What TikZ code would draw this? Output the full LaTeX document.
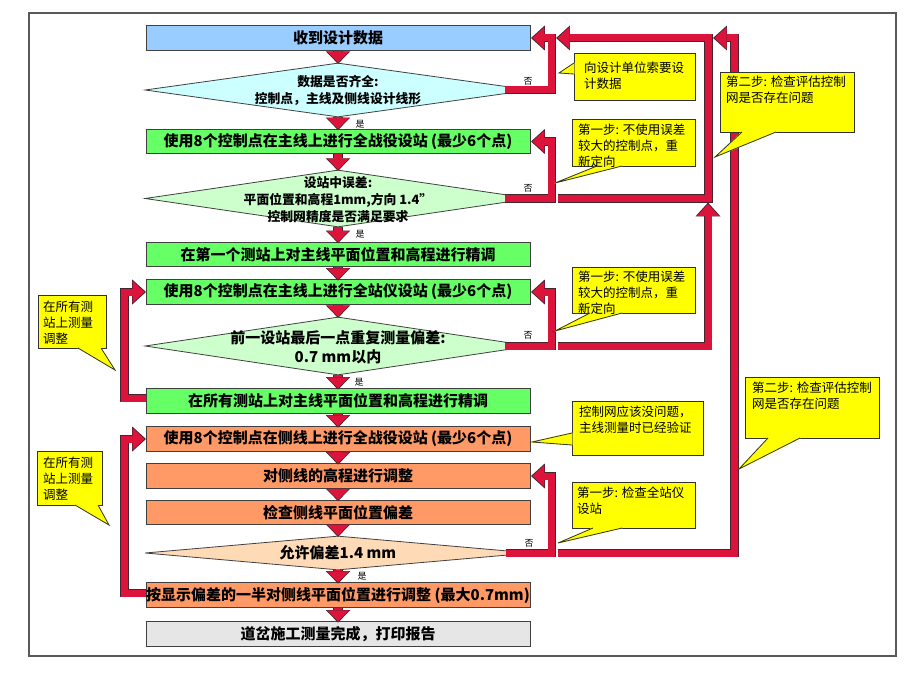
\documentclass[tikz,border=0pt]{standalone}
\usepackage{fontspec}
\setmainfont{Noto Sans CJK SC}
\usetikzlibrary{arrows.meta,shapes.geometric,calc}
\definecolor{arrred}{RGB}{220,20,60}
\definecolor{arrdark}{RGB}{70,35,45}
\definecolor{boxblue}{RGB}{153,204,255}
\definecolor{diacyan}{RGB}{204,255,255}
\definecolor{boxgreen}{RGB}{102,255,102}
\definecolor{dialgreen}{RGB}{204,255,204}
\definecolor{boxorange}{RGB}{255,153,102}
\definecolor{diapeach}{RGB}{255,218,182}
\definecolor{boxgray}{RGB}{230,230,230}
\definecolor{callyellow}{RGB}{255,255,0}
\definecolor{edgegray}{RGB}{64,64,64}
\newcommand\cptr[3]{\path[fill=callyellow, draw=callyellow, line width=0.9pt, line join=round] #1 -- #2 -- #3 -- cycle; \draw[cedge] #1 -- #2 -- #3;}
\begin{document}
\begin{tikzpicture}[x=1pt,y=-1pt,
  stepbox/.style={draw=edgegray, line width=0.8pt, minimum width=384pt, minimum height=24.5pt, inner sep=0pt, font=\fontsize{15}{18}\selectfont\bfseries},
  dia/.style={diamond, draw=edgegray, line width=0.8pt, minimum width=386pt, inner sep=0pt},
  dtext/.style={align=center, inner sep=0pt, font=\fontsize{12.8}{17}\selectfont\bfseries},
  dtextbig/.style={align=center, inner sep=0pt, font=\fontsize{15}{19}\selectfont\bfseries},
  yn/.style={inner sep=0pt, font=\fontsize{9}{10}\selectfont},
  frame/.style={draw=black!65, line width=1.2pt},
  blk/.style={draw=arrred, line width=7pt, line join=miter, -{Triangle[width=22pt,length=12pt,line width=0pt]},
    preaction={draw=arrdark, line width=8.4pt, line join=miter, shorten >=-1.4pt, shorten <=-0.7pt, -{Triangle[width=25pt,length=13.8pt,line width=0pt]}}},
  dnarr/.style={draw=arrred, line width=8pt, -{Triangle[width=22pt,length=11pt,line width=0pt]},
    preaction={draw=arrdark, line width=9.2pt, shorten >=-1.2pt, -{Triangle[width=24.5pt,length=12.4pt,line width=0pt]}}},
  cbox/.style={draw=black!80, fill=callyellow, line width=0.8pt, inner sep=0pt},
  cedge/.style={draw=black!80, line width=0.8pt, line join=miter},
  ctext/.style={anchor=north west, inner sep=0pt, align=left, font=\fontsize{12.5}{16}\selectfont}
]
\fill[white] (0,0) rectangle (920,690);
\useasboundingbox (0,0) rectangle (920,690);
\draw[frame] (29,13) rectangle (896,656);

% main column
\node[stepbox, fill=boxblue] (b1) at (338,38) {收到设计数据};
\node[dia, fill=diacyan, minimum height=54pt] (d1) at (338,90) {};
\node[dtext] (d1t) at (d1) {数据是否齐全:\\控制点，主线及侧线设计线形};
\node[stepbox, fill=boxgreen] (b2) at (338,141.5) {使用8个控制点在主线上进行全战役设站 (最少6个点)};
\node[dia, fill=dialgreen, minimum height=57pt] (d2) at (338,198.5) {};
\node[dtext] (d2t) at ($(d2)+(0,1.5)$) {设站中误差:\\平面位置和高程1mm,方向 1.4"\\控制网精度是否满足要求};
\node[stepbox, fill=boxgreen] (b3) at (338,254.5) {在第一个测站上对主线平面位置和高程进行精调};
\node[stepbox, fill=boxgreen] (b4) at (338,292) {使用8个控制点在主线上进行全站仪设站 (最少6个点)};
\node[dia, fill=dialgreen, minimum height=58pt] (d3) at (338,346) {};
\node[dtextbig] (d3t) at ($(d3)+(0,1)$) {前一设站最后一点重复测量偏差:\\0.7 mm以内};
\node[stepbox, fill=boxgreen] (b5) at (338,401) {在所有测站上对主线平面位置和高程进行精调};
\node[stepbox, fill=boxorange] (b6) at (338,439) {使用8个控制点在侧线上进行全战役设站 (最少6个点)};
\node[stepbox, fill=boxorange] (b7) at (338,476) {对侧线的高程进行调整};
\node[stepbox, fill=boxorange] (b8) at (338,512.5) {检查侧线平面位置偏差};
\node[dia, fill=diapeach, minimum height=34pt] (d4) at (338,553) {};
\node[dtextbig] (d4t) at (d4) {允许偏差1.4 mm};
\node[stepbox, fill=boxorange] (b9) at (338,595) {按显示偏差的一半对侧线平面位置进行调整 (最大0.7mm)};
\node[stepbox, fill=boxgray] (b10) at (338,634) {道岔施工测量完成，打印报告};

% down arrows
\foreach \a/\b in {b1/d1,d1/b2,b2/d2,d2/b3,b3/b4,b4/d3,d3/b5,b5/b6,b6/b7,b7/b8,b8/d4,d4/b9,b9/b10}
  \draw[dnarr] (\a.south) -- (\b.north);

% yes / no labels
\node[yn] (y1) at (360,124) {是};
\node[yn] (y2) at (360,234) {是};
\node[yn] (y3) at (359,382) {是};
\node[yn] (y4) at (362,576) {是};
\node[yn] (n1) at (528,81) {否};
\node[yn] (n2) at (528,188) {否};
\node[yn] (n3) at (528,335) {否};
\node[yn] (n4) at (529,543) {否};

% return connectors
\coordinate (retA) at (557.5,38);
\coordinate (retC) at (708,204);
\coordinate (retC2) at (714.5,38);
\draw[blk] ($(d1.east)+(-26,0)$) -- ++(46.5,0) |- ($(b1.east)+(2,0)$);
\draw[blk] ($(d2.east)+(-26,0)$) -- ++(46.5,0) |- ($(b2.east)+(2,0)$);
\draw[blk] ($(d2.east)+(27,0)$) -- ++(150,0) |- (retA);
\draw[blk] ($(d3.east)+(-26,0)$) -- ++(46.5,0) |- ($(b4.east)+(2,0)$);
\draw[blk] ($(d3.east)+(27,0)$) -| (retC);
\draw[blk] ($(d4.east)+(-25,0)$) -- ++(45.5,0) |- ($(b7.east)+(2,0)$);
\draw[blk] ($(d4.east)+(27,0)$) -- ++(176,0) |- (retC2);
\draw[blk] ($(b5.west)+(0,-3)$) -- ++(-21,0) |- ($(b4.west)+(-1,0)$);
\draw[blk] ($(b9.west)+(0,-2)$) -- ++(-21,0) |- ($(b6.west)+(-1,0)$);

% callouts
\node[cbox, minimum width=121pt, minimum height=47pt] (c1) at (634.5,76.5) {};
\cptr{(574,63)}{(559,73)}{(574,74)}
\node[ctext] (c1t) at (584,61.7) {向设计单位索要设\\计数据};

\node[cbox, minimum width=123pt, minimum height=47pt] (c2) at (633.5,142.5) {};
\cptr{(597,166)}{(555,183)}{(622,166)}
\node[ctext] (c2t) at (578,123.7) {第一步: 不使用误差\\较大的控制点，重\\新定向};

\node[cbox, minimum width=134pt, minimum height=60pt] (c3) at (787,102) {};
\cptr{(742,132)}{(715,157)}{(776,132)}
\node[ctext] (c3t) at (726,75.7) {第二步: 检查评估控制\\网是否存在问题};

\node[cbox, minimum width=123pt, minimum height=46pt] (c4) at (633.5,290) {};
\cptr{(590,313)}{(555,331)}{(622,313)}
\node[ctext] (c4t) at (578,270.7) {第一步: 不使用误差\\较大的控制点，重\\新定向};

\node[cbox, minimum width=131pt, minimum height=54pt] (c5) at (637.5,428) {};
\cptr{(572,433)}{(532,442)}{(572,445)}
\node[ctext] (c5t) at (579,405.7) {控制网应该没问题，\\主线测量时已经验证};

\node[cbox, minimum width=134pt, minimum height=61pt] (c6) at (812,407.5) {};
\cptr{(768,438)}{(739,469)}{(800,438)}
\node[ctext] (c6t) at (752,381.7) {第二步: 检查评估控制\\网是否存在问题};

\node[cbox, minimum width=123pt, minimum height=46pt] (c7) at (633.5,505) {};
\cptr{(593,528)}{(558,543)}{(622,528)}
\node[ctext] (c7t) at (577,486.7) {第一步: 检查全站仪\\设站};

\node[cbox, minimum width=68pt, minimum height=53pt] (c8) at (72,321.5) {};
\cptr{(78,348)}{(115,370)}{(101,348)}
\node[ctext] (c8t) at (43,300.7) {在所有测\\站上测量\\调整};

\node[cbox, minimum width=65pt, minimum height=54pt] (c9) at (69.5,478) {};
\cptr{(75,505)}{(109,525)}{(98,505)}
\node[ctext] (c9t) at (43,456.7) {在所有测\\站上测量\\调整};
\end{tikzpicture}
\end{document}
